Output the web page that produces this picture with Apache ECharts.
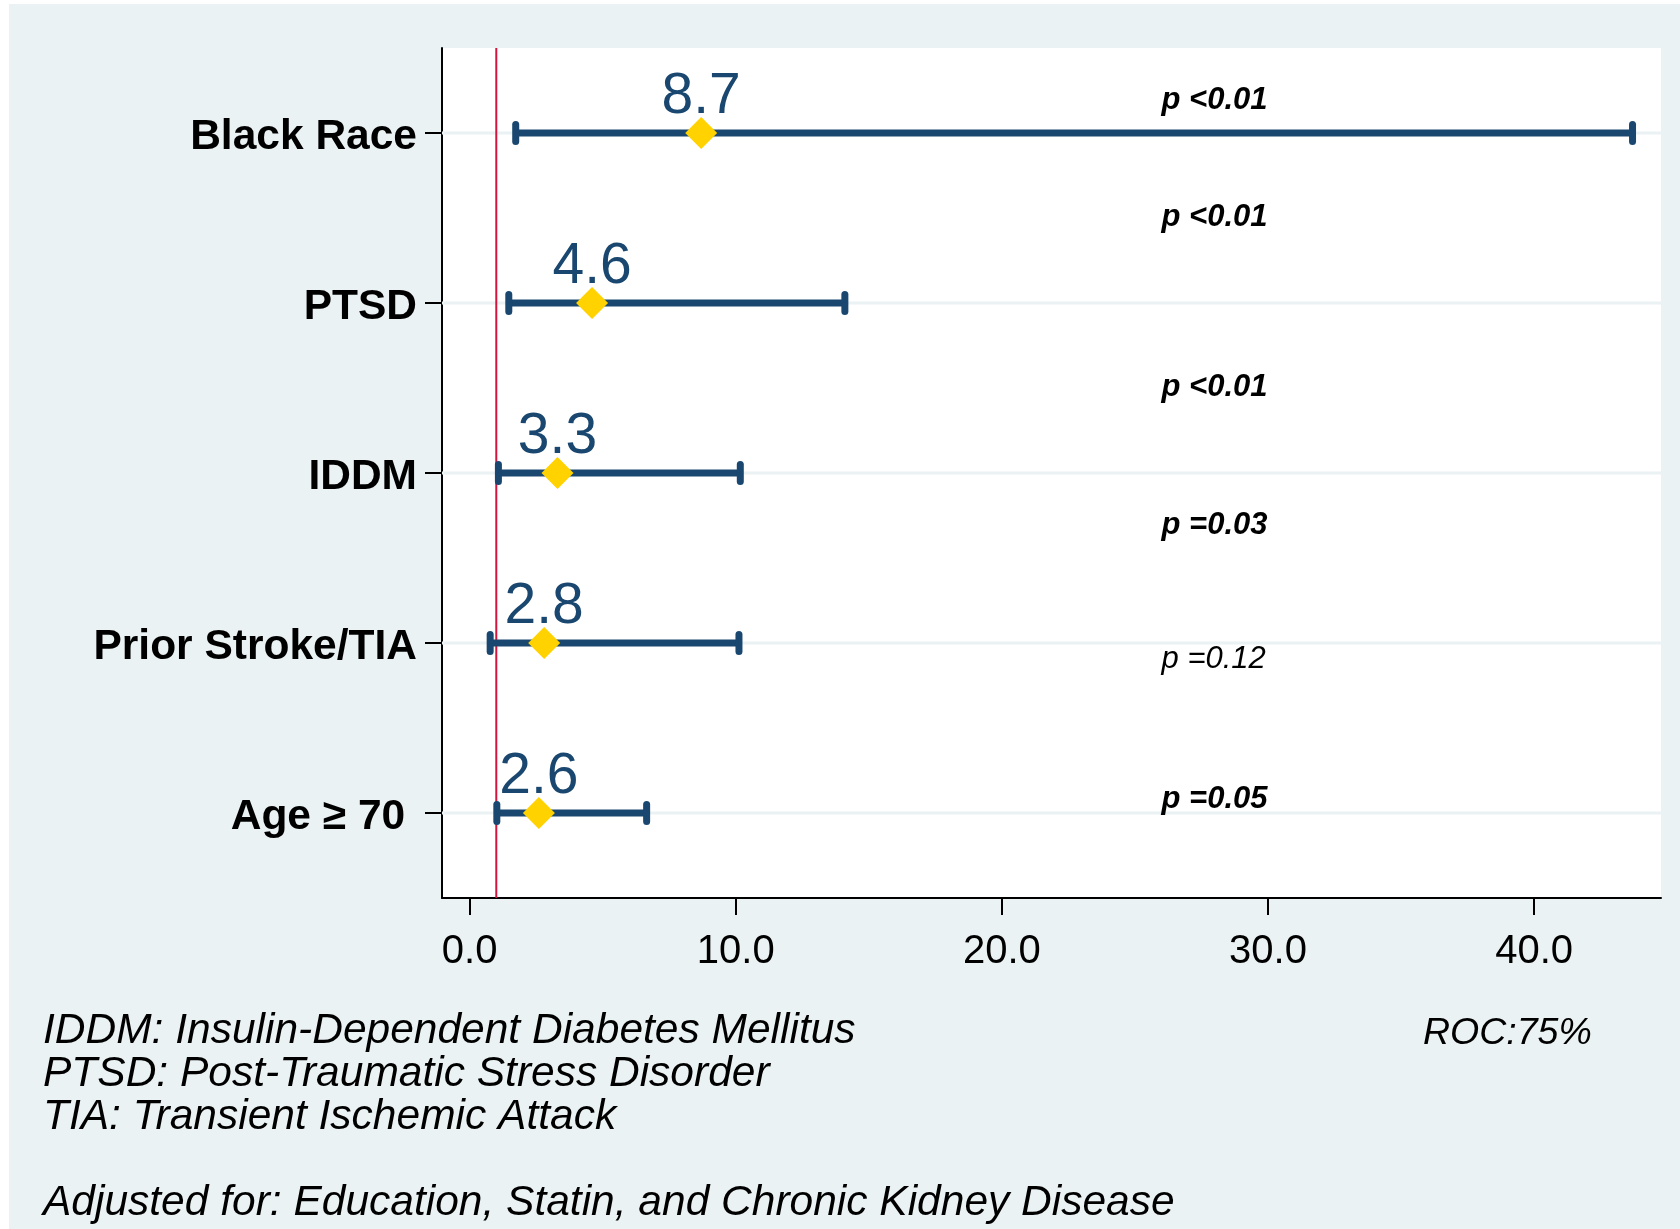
<!DOCTYPE html>
<html>
<head>
<meta charset="utf-8">
<script src="https://cdn.jsdelivr.net/npm/echarts@6/dist/echarts.min.js"></script>
<style>
  html, body { margin: 0; padding: 0; background: #ffffff; }
  #panel { position: absolute; left: 9px; top: 4px; width: 1671px; height: 1225px; background: #eaf2f3; }
  #chart { position: absolute; left: 0; top: 0; width: 1680px; height: 1229px; }
</style>
</head>
<body>
<div id="panel"></div>
<div id="chart"></div>
<script>
// Adjusted odds ratios with 95% confidence intervals
const categories = ['Black Race', 'PTSD', 'IDDM', 'Prior Stroke/TIA', 'Age \u2265 70 '];
const oddsRatio = [8.7, 4.6, 3.3, 2.8, 2.6];
const ciLower = [1.73, 1.47, 1.08, 0.77, 1.02];
const ciUpper = [43.7, 14.1, 10.17, 10.12, 6.65];
const referenceValue = [1];
const xTicks = [0, 10, 20, 30, 40];

// p-value annotations (row position in category units, 0.5 = top edge)
const pText = ['p <0.01', 'p <0.01', 'p <0.01', 'p =0.03', 'p =0.12', 'p =0.05'];
const pBold = [true, true, true, true, false, true];
const pRow = [0.79, 1.48, 2.48, 3.29, 4.08, 4.90];
const pX = 26.0;

const footnotes = [
  'IDDM: Insulin-Dependent Diabetes Mellitus',
  'PTSD: Post-Traumatic Stress Disorder',
  'TIA: Transient Ischemic Attack',
  '',
  'Adjusted for: Education, Statin, and Chronic Kidney Disease'
];
const rocText = 'ROC:75%';

const FONT = '"Liberation Sans", Arial, Helvetica, sans-serif';
const NAVY = '#1a476f';
const GOLD = '#ffd200';
const RED = '#d4143c';
const GRID_BG = '#eaf2f3';

const chart = echarts.init(document.getElementById('chart'), null, { renderer: 'canvas' });

const footGraphics = [];
footnotes.forEach(function (t, i) {
  if (!t) return;
  footGraphics.push({
    type: 'text',
    x: 43,
    y: 1031.5 + i * 42.8,
    style: {
      text: t,
      font: 'italic 42.5px ' + FONT,
      fill: '#000',
      textVerticalAlign: 'middle'
    }
  });
});
footGraphics.push({
  type: 'text',
  x: 1423,
  y: 1033.5,
  style: {
    text: rocText,
    font: 'italic 37.5px ' + FONT,
    fill: '#000',
    textVerticalAlign: 'middle'
  }
});

const option = {
  animation: false,
  backgroundColor: 'transparent',
  textStyle: { fontFamily: FONT },
  grid: {
    left: 442, top: 48, width: 1219, height: 850,
    show: true, backgroundColor: '#ffffff', borderWidth: 0
  },
  xAxis: {
    type: 'value',
    min: -1.04,
    max: 44.77,
    splitLine: { show: false },
    axisLine: { show: true, onZero: false, lineStyle: { color: '#000', width: 2 } },
    axisTick: { show: true, customValues: xTicks, length: 17, lineStyle: { color: '#000', width: 2 } },
    axisLabel: {
      customValues: xTicks,
      formatter: function (v) { return Number(v).toFixed(1); },
      fontSize: 40, color: '#000', fontFamily: FONT, margin: 34
    }
  },
  yAxis: [
    {
      type: 'category',
      data: categories,
      inverse: true,
      splitLine: { show: false },
      axisLine: { show: true, onZero: false, lineStyle: { color: '#000', width: 2 } },
      axisTick: { show: true, alignWithLabel: true, length: 17, lineStyle: { color: '#000', width: 2 } },
      axisLabel: {
        fontSize: 42.5, fontWeight: 'bold', color: '#000', fontFamily: FONT,
        margin: 25, verticalAlign: 'top', lineHeight: 8
      }
    },
    {
      type: 'value',
      inverse: true,
      min: 0.5,
      max: 5.5,
      show: false
    }
  ],
  graphic: footGraphics,
  series: [
    {
      // horizontal grid line through each row
      type: 'custom',
      z: 1,
      silent: true,
      data: categories.map(function (c, i) { return [0, i]; }),
      encode: { x: 0, y: 1 },
      renderItem: function (params, api) {
        const y = api.coord([0, api.value(1)])[1];
        const cs = params.coordSys;
        return {
          type: 'line',
          shape: { x1: cs.x, y1: y, x2: cs.x + cs.width, y2: y },
          style: { stroke: GRID_BG, lineWidth: 3 }
        };
      }
    },
    {
      // reference line at OR = 1
      type: 'custom',
      z: 2,
      silent: true,
      data: referenceValue.map(function (v) { return [v, 0]; }),
      encode: { x: 0, y: 1 },
      renderItem: function (params, api) {
        const x = api.coord([api.value(0), 0])[0];
        const cs = params.coordSys;
        return {
          type: 'line',
          shape: { x1: x, y1: cs.y, x2: x, y2: cs.y + cs.height },
          style: { stroke: RED, lineWidth: 2 }
        };
      }
    },
    {
      // confidence interval whiskers with caps
      type: 'custom',
      z: 3,
      data: categories.map(function (c, i) { return [ciLower[i], ciUpper[i], i]; }),
      encode: { x: [0, 1], y: 2 },
      renderItem: function (params, api) {
        const lo = api.coord([api.value(0), api.value(2)]);
        const hi = api.coord([api.value(1), api.value(2)]);
        const y = lo[1];
        const half = 8.5;
        return {
          type: 'group',
          children: [
            { type: 'line', shape: { x1: lo[0], y1: y, x2: hi[0], y2: y },
              style: { stroke: NAVY, lineWidth: 7, lineCap: 'butt' } },
            { type: 'line', shape: { x1: lo[0], y1: y - half, x2: lo[0], y2: y + half },
              style: { stroke: NAVY, lineWidth: 7, lineCap: 'round' } },
            { type: 'line', shape: { x1: hi[0], y1: y - half, x2: hi[0], y2: y + half },
              style: { stroke: NAVY, lineWidth: 7, lineCap: 'round' } }
          ]
        };
      }
    },
    {
      // point estimates
      type: 'scatter',
      z: 4,
      symbol: 'diamond',
      symbolSize: 32,
      itemStyle: { color: GOLD, opacity: 1 },
      data: oddsRatio.map(function (v, i) { return [v, i]; }),
      label: {
        show: true,
        position: 'top',
        distance: -9,
        fontSize: 57,
        color: NAVY,
        fontFamily: FONT,
        formatter: function (p) { return p.value[0].toFixed(1); }
      }
    },
    {
      // p-value annotations
      type: 'scatter',
      z: 5,
      yAxisIndex: 1,
      symbolSize: 0,
      silent: true,
      itemStyle: { opacity: 1 },
      data: pText.map(function (t, i) {
        return {
          value: [pX, pRow[i]],
          label: { fontWeight: pBold[i] ? 'bold' : 'normal' }
        };
      }),
      label: {
        show: true,
        position: 'right',
        distance: 0,
        offset: [0, 3],
        fontSize: 31,
        fontStyle: 'italic',
        color: '#000',
        fontFamily: FONT,
        formatter: function (p) { return pText[p.dataIndex]; }
      }
    }
  ]
};

chart.setOption(option);
</script>
</body>
</html>
